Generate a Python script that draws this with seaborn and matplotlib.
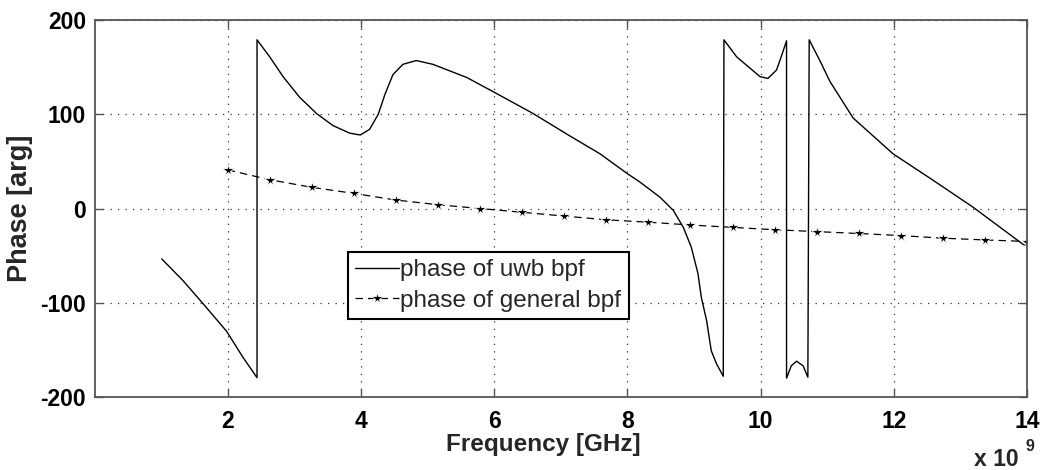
import matplotlib
matplotlib.use("Agg")
import matplotlib.pyplot as plt
import seaborn as sns
import pandas as pd

# ---- data ----
uwb_freq_ghz = [1.01, 1.33, 1.63, 1.98, 2.23, 2.44, 2.44, 2.63, 2.83, 3.08, 3.33, 3.58,
                3.83, 3.99, 4.13, 4.26, 4.36, 4.48, 4.63, 4.83, 5.08, 5.59, 6.01, 6.58,
                7.09, 7.59, 8.00, 8.19, 8.49, 8.69, 8.84, 8.96, 9.06, 9.11, 9.19, 9.26,
                9.34, 9.44, 9.45, 9.64, 9.84, 9.99, 10.11, 10.24, 10.31, 10.39, 10.39,
                10.46, 10.54, 10.64, 10.71, 10.73, 10.89, 11.04, 11.39, 11.99, 12.59,
                13.19, 13.94, 14.0]
uwb_phase = [-53.5, -76.6, -101, -130, -158, -179.5, 179, 161, 140, 118, 101, 88,
             80, 78, 84, 100, 121, 142, 153, 157, 153, 139, 123, 101,
             79, 58, 37, 28, 12, -2, -20, -41, -69, -94, -119, -151,
             -165, -178, 179, 161, 149, 140, 138, 147, 161, 178, -180,
             -167, -162, -167, -179, 179, 157, 135, 96, 58, 30,
             1.4, -38, -40]

gen_freq_ghz = [2.0, 2.632, 3.263, 3.895, 4.526, 5.158, 5.789, 6.421, 7.053, 7.684,
                8.316, 8.947, 9.579, 10.211, 10.842, 11.474, 12.105, 12.737, 13.368, 14.0]
gen_phase = [41, 30.5, 22.5, 16, 9, 4, 0, -4, -8, -12,
             -14.5, -17.5, -20, -22.5, -24.5, -26.5, -28.7, -31.5, -33.3, -35]

x_ticks = [2, 4, 6, 8, 10, 12, 14]
y_ticks = [-200, -100, 0, 100, 200]
label_uwb = "phase of uwb bpf"
label_gen = "phase of general bpf"

df_uwb = pd.DataFrame({"f": [v * 1e9 for v in uwb_freq_ghz], "phase": uwb_phase})
df_gen = pd.DataFrame({"f": [v * 1e9 for v in gen_freq_ghz], "phase": gen_phase})

# ---- style ----
sns.set_theme(style="white")
plt.rcParams["font.family"] = ["Liberation Sans", "DejaVu Sans"]

fig = plt.figure(figsize=(10.42, 4.70), dpi=100)
ax = fig.add_axes([0.0907, 0.1553, 0.8949, 0.8021])

sns.lineplot(data=df_uwb, x="f", y="phase", ax=ax, sort=False, estimator=None,
             color="black", linewidth=1.0, label=label_uwb)
sns.lineplot(data=df_gen, x="f", y="phase", ax=ax, sort=False, estimator=None,
             color="black", linewidth=0.9, linestyle=(0, (6, 4)), marker="*",
             markersize=8.5, markeredgewidth=0.6, label=label_gen)

ax.set_xlim(0, 14e9)
ax.set_ylim(-200, 200)
ax.set_xticks([t * 1e9 for t in x_ticks])
ax.set_xticklabels([str(t) for t in x_ticks])
ax.set_yticks(y_ticks)
ax.set_yticklabels([str(t) for t in y_ticks])

ax.grid(True, linestyle=(0, (1, 5)), color="#333333", linewidth=0.9)
for s in ax.spines.values():
    s.set_visible(True)
    s.set_color("#555555")
    s.set_linewidth(1.3)

ax.tick_params(axis="both", which="major", direction="in", length=6, width=1.0,
               colors="#555555", labelcolor="black", top=True, right=True,
               labelsize=16.5, bottom=True, left=True)
ax.tick_params(axis="x", pad=9)
ax.tick_params(axis="y", pad=6)
for lbl in ax.get_xticklabels() + ax.get_yticklabels():
    lbl.set_fontweight("bold")

ax.set_xlabel("Frequency [GHz]", fontsize=17.5, fontweight="bold")
ax.xaxis.set_label_coords(0.481, -0.096)
ax.set_ylabel("Phase [arg]", fontsize=19.5, fontweight="bold")
ax.yaxis.set_label_coords(-0.066, 0.5)

fig.text(0.935, 0.008, "x 10", fontsize=16.5, fontweight="bold", ha="left", va="baseline")
fig.text(0.984, 0.040, "9", fontsize=11.5, fontweight="bold", ha="left", va="baseline")

leg = ax.legend(loc="upper left", bbox_to_anchor=(0.272, 0.385), frameon=True,
                fancybox=False, framealpha=1, edgecolor="black", fontsize=17.5,
                handlelength=1.8, handletextpad=0.05, borderpad=0.3,
                labelspacing=0.35, borderaxespad=0, numpoints=1)
leg.get_frame().set_linewidth(1.5)

fig.savefig("out.png", dpi=100, facecolor="white")
